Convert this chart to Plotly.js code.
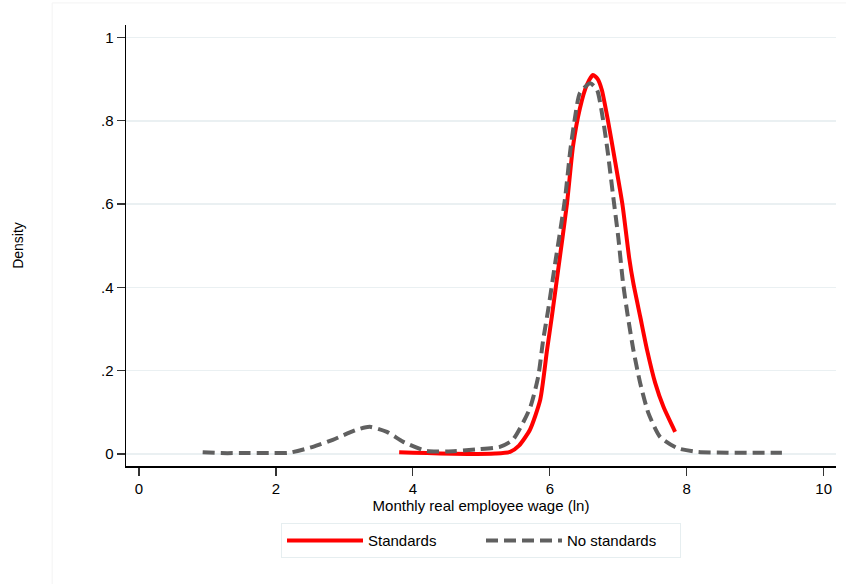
<!DOCTYPE html>
<html>
<head>
<meta charset="utf-8">
<script src="https://cdn.plot.ly/plotly-3.0.1.min.js"></script>
<style>html,body{margin:0;padding:0;background:#fff;}#chart{width:846px;height:584px;}</style>
</head>
<body>
<div id="chart"></div>
<script>
// Standards (red, solid)
var stdX = [3.8, 4.0, 4.4, 4.8, 5.2, 5.42, 5.55, 5.71, 5.86, 5.96, 6.03, 6.12, 6.25, 6.34, 6.44, 6.54, 6.63, 6.70, 6.76, 6.85, 6.95, 7.06, 7.16, 7.22, 7.32, 7.42, 7.54, 7.66, 7.83];
var stdY = [0.004, 0.003, 0.001, 0.0, 0.001, 0.005, 0.02, 0.058, 0.13, 0.25, 0.33, 0.44, 0.60, 0.74, 0.83, 0.886, 0.91, 0.90, 0.874, 0.80, 0.706, 0.60, 0.47, 0.41, 0.33, 0.25, 0.17, 0.113, 0.053];
// No standards (gray, dashed)
var noX = [0.93, 1.2, 1.5, 1.9, 2.2, 2.54, 2.83, 3.18, 3.37, 3.62, 3.86, 4.2, 4.5, 4.94, 5.27, 5.46, 5.71, 5.83, 5.90, 5.98, 6.08, 6.22, 6.30, 6.37, 6.44, 6.59, 6.69, 6.78, 6.85, 6.92, 7.0, 7.07, 7.14, 7.22, 7.32, 7.44, 7.61, 7.86, 8.15, 8.6, 9.39];
var noY = [0.004, 0.002, 0.002, 0.002, 0.003, 0.017, 0.034, 0.058, 0.065, 0.053, 0.029, 0.007, 0.006, 0.011, 0.017, 0.034, 0.11, 0.185, 0.27, 0.35, 0.46, 0.61, 0.73, 0.81, 0.867, 0.89, 0.874, 0.80, 0.72, 0.626, 0.52, 0.41, 0.33, 0.25, 0.17, 0.098, 0.041, 0.014, 0.005, 0.003, 0.003];

var xTicks = [0, 2, 4, 6, 8, 10];
var yTicks = [0, 0.2, 0.4, 0.6, 0.8, 1];
var yTickText = ["0", ".2", ".4", ".6", ".8", "1"];

var font = "Liberation Sans, Arial, Helvetica, sans-serif";

var traces = [
  {x: stdX, y: stdY, type: "scatter", mode: "lines", name: "Standards",
   line: {color: "#ff0000", width: 4, shape: "spline", smoothing: 0.6}},
  {x: noX, y: noY, type: "scatter", mode: "lines", name: "No standards",
   line: {color: "#606060", width: 4, dash: "12px,6px", shape: "spline", smoothing: 0.6}}
];

var layout = {
  width: 846, height: 584,
  paper_bgcolor: "#ffffff", plot_bgcolor: "#ffffff",
  margin: {l: 126, r: 10, t: 25, b: 118},
  font: {family: font, size: 15, color: "#000"},
  showlegend: true,
  legend: {orientation: "h", x: 0.5, xanchor: "center", y: -0.13, yanchor: "top",
           bordercolor: "#e6eef0", borderwidth: 1, font: {family: font, size: 15},
           itemwidth: 76, entrywidth: 108, entrywidthmode: "pixels",
           tracegroupgap: 0, bgcolor: "#ffffff"},
  xaxis: {range: [-0.19, 10.18], tickvals: xTicks, ticktext: xTicks.map(String),
          showline: true, linecolor: "#000", linewidth: 1.5, mirror: false,
          ticks: "outside", ticklen: 8, tickcolor: "#333", tickwidth: 1.2,
          showgrid: false, zeroline: false, tickfont: {size: 15},
          title: {text: "Monthly real employee wage (ln)", font: {size: 15}, standoff: 2}},
  yaxis: {range: [-0.029, 1.03], tickvals: yTicks, ticktext: yTickText,
          showline: true, linecolor: "#000", linewidth: 1.5,
          ticks: "outside", ticklen: 8, tickcolor: "#333", tickwidth: 1.2,
          showgrid: true, gridcolor: "#eaf0f2", gridwidth: 1.5, zeroline: false,
          tickfont: {size: 15}, automargin: false,
          title: {text: "Density", font: {size: 14}, standoff: 74}},
  shapes: [{type: "rect", xref: "paper", yref: "paper", x0: -0.104, x1: 1.02, y0: -0.3, y1: 1.05,
            line: {color: "#f3f3f3", width: 1}, layer: "below"}]
};

Plotly.newPlot("chart", traces, layout, {displayModeBar: false, staticPlot: true});
</script>
</body>
</html>
